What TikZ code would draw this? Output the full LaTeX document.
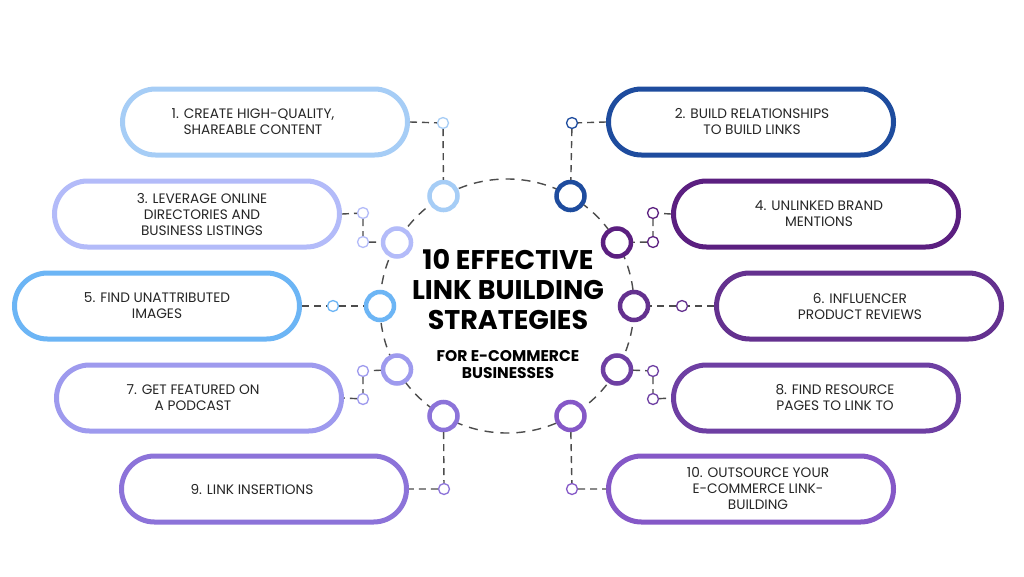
\documentclass[tikz,border=0pt]{standalone}
\usepackage{fontspec}
\setmainfont{Poppins}

\definecolor{col1}{HTML}{A6CDF6}
\definecolor{col2}{HTML}{1E4C9E}
\definecolor{col3}{HTML}{B3BBF9}
\definecolor{col4}{HTML}{5B1F80}
\definecolor{col5}{HTML}{6CB5F5}
\definecolor{col6}{HTML}{64318F}
\definecolor{col7}{HTML}{9E9AEE}
\definecolor{col8}{HTML}{6E3FA3}
\definecolor{col9}{HTML}{8C73D9}
\definecolor{col10}{HTML}{8558C7}

\tikzset{
	pill/.style={draw=#1, line width=5pt, rounded corners=33pt,
		minimum width=285pt, minimum height=66pt, inner sep=0pt},
	note/.style={align=center, text=black!85, font=\fontsize{13.7}{16}\selectfont},
	ring/.style={circle, draw=#1, line width=4.5pt, fill=white,
		minimum size=28pt, inner sep=0pt},
	dot/.style={circle, draw=#1, line width=1.3pt, fill=white,
		minimum size=11pt, inner sep=0pt},
	link/.style={draw=black!70, line width=1.4pt, dash pattern=on 7pt off 5pt},
}

\begin{document}
\begin{tikzpicture}[x=1pt,y=-1pt]
	\useasboundingbox[fill=white] (0,0) rectangle (1024,576);
	\coordinate (hub) at (507,306);
	%\draw[red] (hub) circle (2pt);
	\draw[link, dash pattern=on 9pt off 7pt] (hub) circle (127pt);

	% rings on the circle
	\foreach \i/\a in {1/120,2/60,3/150,4/30,5/180,6/0,7/210,8/-30,9/240,10/-60}
		\node[ring=col\i] (r\i) at ([shift={(\a:127pt)}]hub) {};

	% boxes
	\foreach \i/\x/\y/\o/\t in {
		1/265/122/-12/{1. CREATE HIGH-QUALITY,\\SHAREABLE CONTENT},
		2/751/122/1/{2. BUILD RELATIONSHIPS\\TO BUILD LINKS},
		3/197/214/5/{3. LEVERAGE ONLINE\\DIRECTORIES AND\\BUSINESS LISTINGS},
		4/816/214/3/{4. UNLINKED BRAND\\MENTIONS},
		5/157/306/0/{5. FIND UNATTRIBUTED\\IMAGES},
		6/859/306/1/{6. INFLUENCER\\PRODUCT REVIEWS},
		7/199/398/-6/{7. GET FEATURED ON\\A PODCAST},
		8/816/398/19/{8. FIND RESOURCE\\PAGES TO LINK TO},
		9/264/489/-12/{9. LINK INSERTIONS},
		10/751/489/7/{10. OUTSOURCE YOUR\\E-COMMERCE LINK-\\BUILDING}}
	{
		\node[pill=col\i] (s\i) at (\x,\y) {};
		\node[note] (t\i) at ([xshift=\o pt]s\i.center) {\t};
	}

	% small dots
	\node[dot=col1] (d1) at (443,123) {};
	\node[dot=col2] (d2) at (572,123) {};
	\node[dot=col3] (d3a) at (363,213) {};
	\node[dot=col3] (d3b) at (363,242) {};
	\node[dot=col4] (d4a) at (653,213) {};
	\node[dot=col4] (d4b) at (653,242) {};
	\node[dot=col5] (d5) at (333,306) {};
	\node[dot=col6] (d6) at (682,306) {};
	\node[dot=col7] (d7a) at (363,371) {};
	\node[dot=col7] (d7b) at (363,399) {};
	\node[dot=col8] (d8a) at (653,371) {};
	\node[dot=col8] (d8b) at (653,399) {};
	\node[dot=col9] (d9) at (444,489) {};
	\node[dot=col10] (d10) at (572,489) {};

	% connectors
	\draw[link] (s1.east) -- (d1) -- (r1);
	\draw[link] (s2.west) -- (d2) -- (r2);
	\draw[link] (s3.east) -- (d3a) -- (d3b) -- (r3);
	\draw[link] (s4.west) -- (d4a) -- (d4b) -- (r4);
	\draw[link] (s5.east) -- (d5) -- (r5);
	\draw[link] (s6.west) -- (d6) -- (r6);
	\draw[link] (r7) -- (d7a) -- (d7b) -- (s7.east);
	\draw[link] (r8) -- (d8a) -- (d8b) -- (s8.west);
	\draw[link] (r9) -- (d9) -- (s9.east);
	\draw[link] (r10) -- (d10) -- (s10.west);

	% title
	\node[align=center, font=\fontsize{27}{30}\selectfont\bfseries] (title) at (508,290)
		{10 EFFECTIVE\\LINK BUILDING\\STRATEGIES};
	\node[align=center, font=\fontsize{15.5}{17}\selectfont\bfseries] (sub) at (508,364.5)
		{FOR E-COMMERCE\\BUSINESSES};
\end{tikzpicture}
\end{document}
